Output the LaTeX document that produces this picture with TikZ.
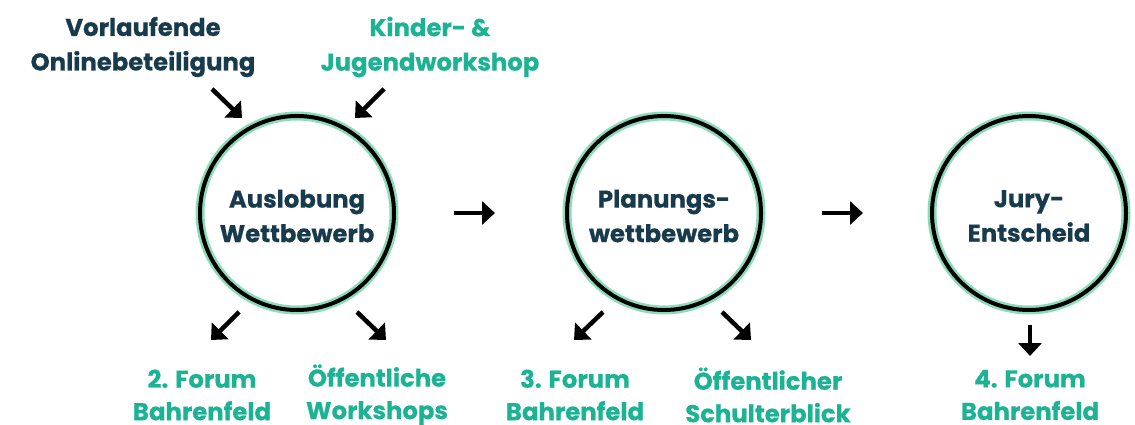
\documentclass[tikz,border=0pt]{standalone}
\usepackage{fontspec}
\setmainfont{Poppins}[BoldFont={Poppins Bold},BoldFeatures={FakeBold=0.6}]
\usetikzlibrary{arrows.meta}
\definecolor{navy}{HTML}{173B4C}
\definecolor{teal}{HTML}{1BB393}
\definecolor{mint}{HTML}{8CDCB9}
\tikzset{
  lbl/.style={align=center, font=\fontsize{24.3}{34.5}\selectfont\bfseries, inner sep=0pt},
  darklbl/.style={lbl, text=navy},
  greenlbl/.style={lbl, text=teal, font=\fontsize{24.3}{32.5}\selectfont\bfseries},
  ring/.style={circle, minimum size=194pt, inner sep=0pt, draw=black, line width=4pt,
    preaction={draw=mint, line width=9pt}},
  arr/.style={line width=4.5pt, -{Triangle[length=13pt,width=23pt]}},
}
\begin{document}
\begin{tikzpicture}[x=1pt,y=-1pt]
\useasboundingbox (0,0) rectangle (1135,425);
% circles
\node[ring] (c1) at (297,213) {};
\node[ring] (c2) at (664,213) {};
\node[ring] (c3) at (1029,213) {};
\node[darklbl] (t1) at (297,216) {Auslobung\\Wettbewerb};
\node[darklbl] (t2) at (664,216) {Planungs-\\wettbewerb};
\node[darklbl] (t3) at (1029,216) {Jury-\\Entscheid};
% top labels
\node[darklbl] (online) at (143,47) {Vorlaufende\\Onlinebeteiligung};
\node[greenlbl, font=\fontsize{24.3}{34.5}\selectfont\bfseries] (kinder) at (430,47) {Kinder- \&\\Jugendworkshop};
% bottom labels
\node[greenlbl] (f2) at (202,395) {2. Forum\\Bahrenfeld};
\node[greenlbl] (ow) at (377,395) {Öffentliche\\Workshops};
\node[greenlbl] (f3) at (575,395) {3. Forum\\Bahrenfeld};
\node[greenlbl] (os) at (768,395) {Öffentlicher\\Schulterblick};
\node[greenlbl] (f4) at (1030,395) {4. Forum\\Bahrenfeld};
% arrow endpoints
\coordinate (a1s) at (212,89); \coordinate (a1e) at (242,118);
\coordinate (a2s) at (384,89); \coordinate (a2e) at (355,118);
\coordinate (b1s) at (239,312); \coordinate (b1e) at (211,340);
\coordinate (b2s) at (357,312); \coordinate (b2e) at (386,340);
\coordinate (b3s) at (603,312); \coordinate (b3e) at (574,340);
\coordinate (b4s) at (722,312); \coordinate (b4e) at (751,340);
\coordinate (b5s) at (1030,325); \coordinate (b5e) at (1030,356);
\coordinate (h1s) at (454,213); \coordinate (h1e) at (495,213);
\coordinate (h2s) at (822,213); \coordinate (h2e) at (863,213);
\draw[arr] (a1s) -- (a1e);
\draw[arr] (a2s) -- (a2e);
\draw[arr] (b1s) -- (b1e);
\draw[arr] (b2s) -- (b2e);
\draw[arr] (b3s) -- (b3e);
\draw[arr] (b4s) -- (b4e);
\draw[arr] (b5s) -- (b5e);
\draw[arr] (h1s) -- (h1e);
\draw[arr] (h2s) -- (h2e);
\end{tikzpicture}
\end{document}
